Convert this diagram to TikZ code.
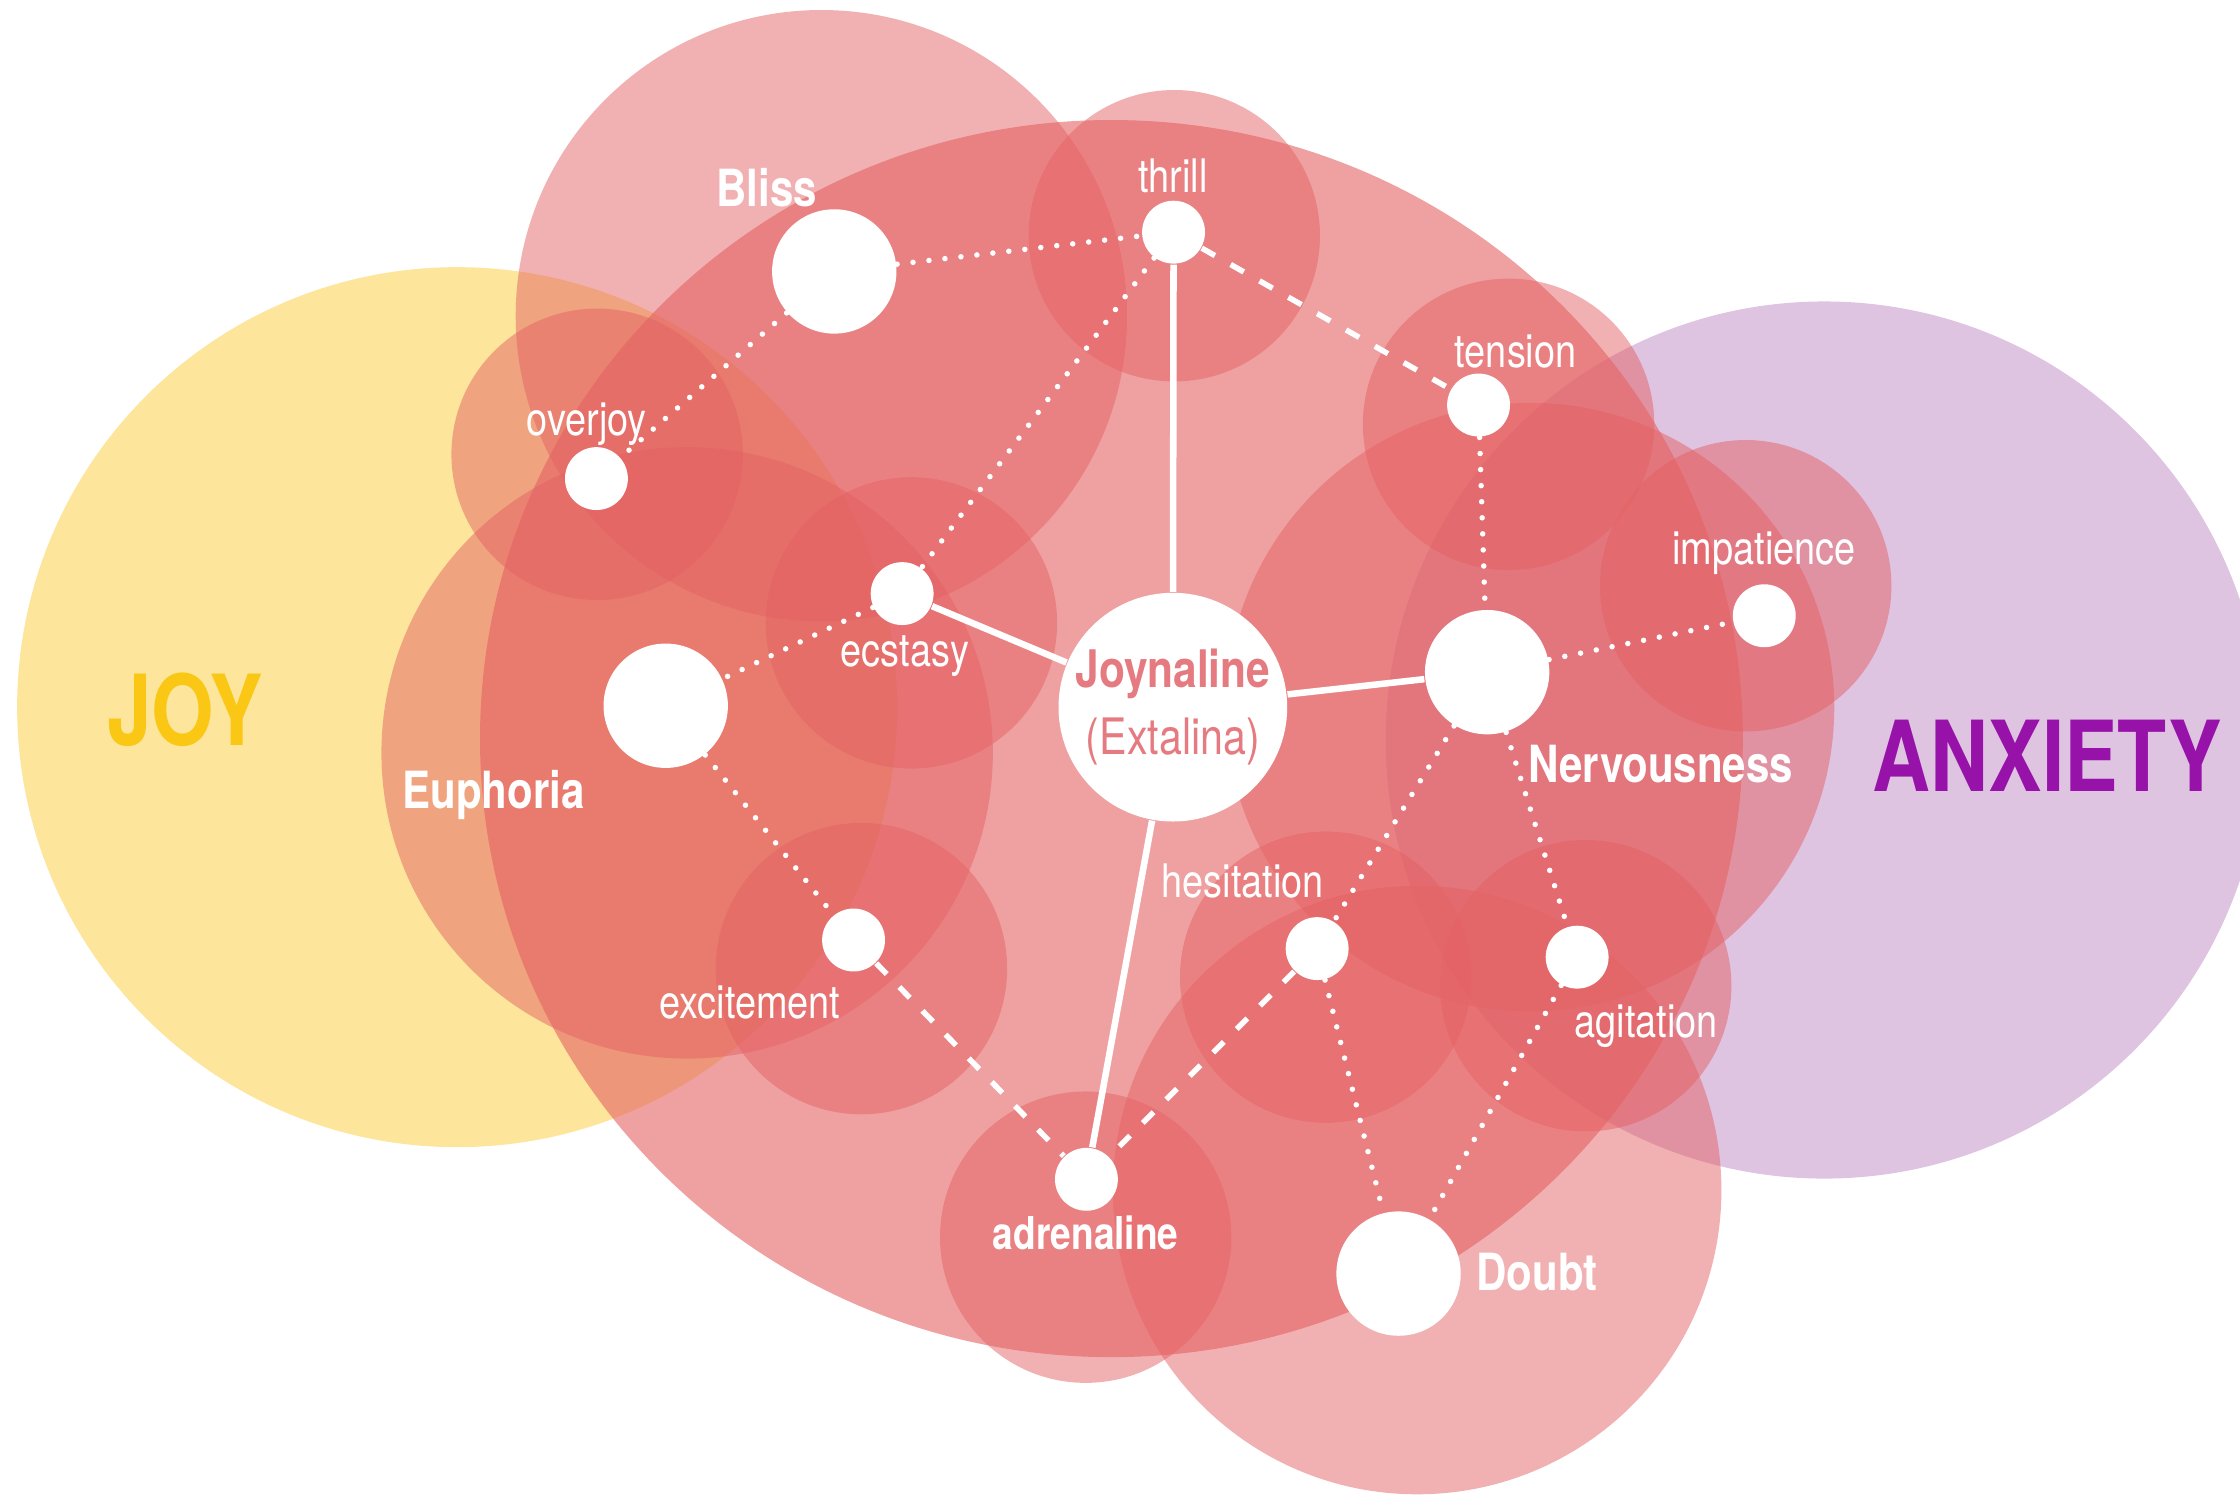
\documentclass[tikz,border=0pt]{standalone}
\usepackage{fontspec}
\setmainfont[FakeStretch=0.82]{TeX Gyre Heros}
\definecolor{rose}{HTML}{E46264}
\definecolor{sunny}{HTML}{FDE59B}
\definecolor{lilac}{HTML}{DFC4E2}
\definecolor{joygold}{HTML}{F9C714}
\definecolor{plum}{HTML}{9612A8}
\definecolor{blush}{HTML}{E57B80}
\tikzset{
  blob/.style={fill=rose,fill opacity=0.5},
  core/.style={circle,fill=white,inner sep=0pt},
  small/.style={core,minimum size=4.4mm},
  big/.style={core,minimum size=8.7mm},
  word/.style={text=white,anchor=base,inner sep=0pt,font=\fontsize{9.2}{11}\selectfont},
  key/.style={word,font=\fontsize{10.2}{12}\selectfont\bfseries},
  title/.style={anchor=base,inner sep=0pt,font=\fontsize{19.5}{23}\selectfont\bfseries},
  tie/.style={draw=white,line width=1.3pt},
  dots/.style={draw=white,line width=1.1pt,line cap=round,dash pattern=on 0pt off 3.2pt},
  dashes/.style={draw=white,line width=1.1pt,dash pattern=on 3pt off 3.6pt}
}

\begin{document}
\begin{tikzpicture}[x=0.01cm,y=-0.01cm]
\useasboundingbox (0,0) rectangle (1568,1047);
% the two outer feelings
\fill[sunny] (320,495) circle [radius=308];
\fill[lilac] (1277,518) circle [radius=307];
% red clouds
\fill[rose,fill opacity=0.6] (778,517) ellipse [x radius=442,y radius=433];
\foreach \cx/\cy/\r in {575/221/214,481/527/214,1071/495/213,992/833/213}
  \fill[blob] (\cx,\cy) circle [radius=\r];
\foreach \cx/\cy in {822/165,1056/297,1222/410,638/436,418/318,603/678,760/866,928/684,1110/690}
  \fill[blob] (\cx,\cy) circle [radius=102];

\node[title,text=joygold] (joyname) at (129.5,521.5) {JOY};
\node[title,text=plum] (anxname) at (1433,554.3) {ANXIETY};

\node[core,minimum size=16mm,align=center,text=blush,font=\fontsize{10.3}{13.3}\selectfont] (joyn) at (821,495) {{\bfseries Joynaline}\\{\fontsize{10}{13.3}\selectfont(Extalina)}};
\node[big] (bliss) at (584,190) {};
\node[small] (thrill) at (821.5,162.5) {};
\node[small] (tension) at (1035,283.5) {};
\node[small] (overjoy) at (417.5,335) {};
\node[small] (ecstasy) at (631.5,415.5) {};
\node[big] (euphoria) at (466,494) {};
\node[big] (nerv) at (1041,470.5) {};
\node[small] (impat) at (1235,431) {};
\node[small] (excite) at (597.5,658) {};
\node[small] (hesit) at (922,664) {};
\node[small] (agit) at (1104,670) {};
\node[small] (adren) at (760.5,825.5) {};
\node[big] (doubt) at (979,891.5) {};

\node[key] (blisstxt) at (536.7,144.7) {Bliss};
\node[word] (thrilltxt) at (821,134.6) {thrill};
\node[word] (tensiontxt) at (1061,257.2) {tension};
\node[word] (overjoytxt) at (410.8,304.6) {overjoy};
\node[word] (impattxt) at (1234.8,395.2) {impatience};
\node[word] (ecstasytxt) at (633.5,466.6) {ecstasy};
\node[key] (euphoriatxt) at (345.5,566) {Euphoria};
\node[key] (nervtxt) at (1162.5,547.6) {Nervousness};
\node[word] (hesittxt) at (870,628) {hesitation};
\node[word] (excitetxt) at (525,713) {excitement};
\node[word] (agittxt) at (1152.5,726.5) {agitation};
\node[key,font=\fontsize{9}{11}\selectfont\bfseries] (adrentxt) at (760,874.9) {adrenaline};
\node[key] (doubttxt) at (1076,903.4) {Doubt};

\draw[tie] (thrill) -- (joyn);
\draw[tie] (ecstasy) -- (joyn);
\draw[tie] (joyn) -- (nerv);
\draw[tie] (joyn) -- (adren);
\draw[dots] (bliss) -- (thrill);
\draw[dots] (bliss) -- (overjoy);
\draw[dots] (thrill) -- (ecstasy);
\draw[dots] (ecstasy) -- (euphoria);
\draw[dots] (euphoria) -- (excite);
\draw[dots] (tension) -- (nerv);
\draw[dots] (nerv) -- (impat);
\draw[dots] (nerv) -- (hesit);
\draw[dots] (nerv) -- (agit);
\draw[dots] (hesit) -- (doubt);
\draw[dots] (agit) -- (doubt);
\draw[dashes] (thrill) -- (tension);
\draw[dashes] (excite) -- (adren);
\draw[dashes] (hesit) -- (adren);
\end{tikzpicture}
\end{document}
